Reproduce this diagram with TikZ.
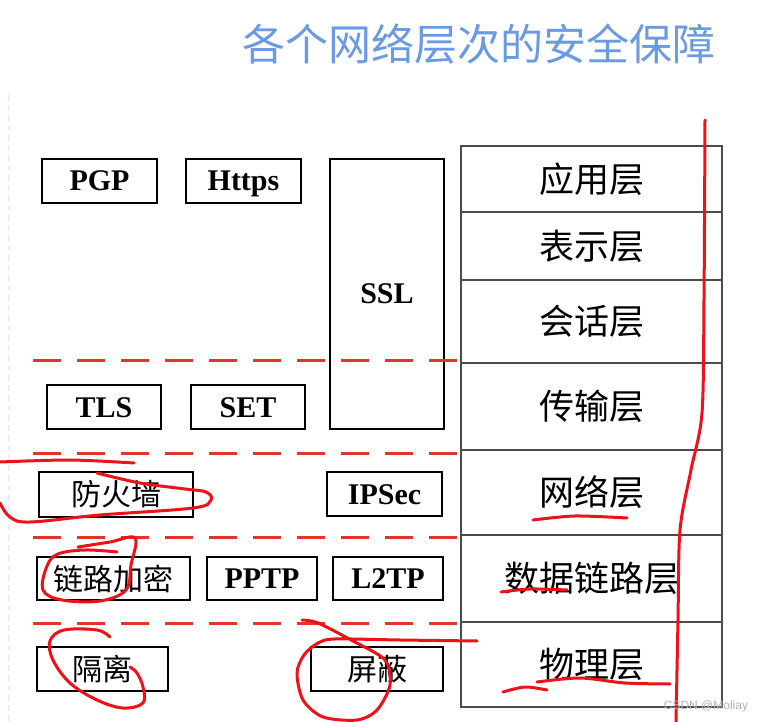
\documentclass[tikz,border=0pt]{standalone}
\usepackage{fontspec}
\setmainfont{Liberation Serif}
\newfontfamily\cjk{Noto Sans CJK SC}
\newfontfamily\wmfont{Liberation Sans}
\usepackage{tikz}
\tikzset{x=1pt,y=-1pt}
\usetikzlibrary{calc}
\definecolor{titleblue}{HTML}{6A9BE2}
\definecolor{penred}{HTML}{EC1218}
\definecolor{dashred}{HTML}{E0352B}
\def\lat{\fontsize{30}{34}\selectfont\bfseries}
\def\han{\cjk\fontsize{30}{34}\selectfont}

\begin{document}
\begin{tikzpicture}[proto/.style={draw, line width=1.4pt, inner sep=0pt, font=\lat,
    text height=20pt, text depth=0pt},
  protocn/.style={draw, line width=1.4pt, inner sep=0pt, font=\han},
  layer/.style={draw=black!70, line width=1.1pt, minimum width=261pt, inner sep=0pt,
    font=\cjk\fontsize{35}{38}\selectfont},
  sep/.style={dashred, line width=3pt, dash pattern=on 28pt off 16pt},
  pen/.style={penred, line width=3pt, line cap=round, line join=round}]
  \useasboundingbox (0,0) rectangle (761,722);
  \fill[white] (0,0) rectangle (761,722);
  \draw[blue!8, line width=2pt, dash pattern=on 6pt off 4pt] (9,95) -- (9,722);
  % title
  \node[text=titleblue, font=\cjk\fontsize{43}{46}\selectfont] (title) at (479,44) {各个网络层次的安全保障};
  % layer stack
  \node[layer, minimum height=66pt] (app) at (591.5,179) {应用层};
  \node[layer, minimum height=68pt] (pres) at (591.5,246) {表示层};
  \node[layer, minimum height=83pt] (sess) at (591.5,321.5) {会话层};
  \node[layer, minimum height=87pt] (trans) at (591.5,406.5) {传输层};
  \node[layer, minimum height=85pt] (net) at (591.5,492.5) {网络层};
  \node[layer, minimum height=87pt] (link) at (591.5,578.5) {数据链路层};
  \node[layer, minimum height=85pt] (phys) at (591.5,664.5) {物理层};
  % protocols
  \node[proto, minimum width=115pt, minimum height=44pt] (pgp) at (99.5,181) {PGP};
  \node[proto, minimum width=115pt, minimum height=44pt] (https) at (243.5,181) {Https};
  \node[proto, minimum width=114pt, minimum height=270pt] (ssl) at (387,294) {SSL};
  \node[proto, minimum width=114pt, minimum height=44pt] (tls) at (104,407) {TLS};
  \node[proto, minimum width=114pt, minimum height=44pt] (set) at (248,407) {SET};
  \node[protocn, minimum width=154pt, minimum height=45pt] (fw) at (116,494.5) {防火墙};
  \node[proto, minimum width=115pt, minimum height=44pt] (ipsec) at (384.5,494) {IPSec};
  \node[protocn, minimum width=153pt, minimum height=43pt] (enc) at (113.5,578.5) {链路加密};
  \node[proto, minimum width=110pt, minimum height=43pt] (pptp) at (262,578.5) {PPTP};
  \node[proto, minimum width=110pt, minimum height=43pt] (ltp) at (388,578.5) {L2TP};
  \node[protocn, minimum width=131pt, minimum height=44pt] (iso) at (102.5,669) {隔离};
  \node[protocn, minimum width=132pt, minimum height=44pt] (shield) at (377,669) {屏蔽};
  % layer separators
  \coordinate (s1) at (33,360);
  \coordinate (s2) at (33,453);
  \coordinate (s3) at (33,537);
  \coordinate (s4) at (33,623);
  \draw[sep] (s1) -- (s1 -| trans.west);
  \draw[sep] (s2) -- (s2 -| net.west);
  \draw[sep] (s3) -- (s3 -| link.west);
  \draw[sep] (s4) -- (s4 -| phys.west);
  % hand marks
  \draw[pen] plot[smooth, tension=.5] coordinates {(705,120) (704,300) (702,413) (691,470) (680,530) (678,620) (676,722)};
  \draw[pen] plot[smooth] coordinates {(533,520) (575,516) (627,518)};
  \draw[pen] plot[smooth] coordinates {(501,592) (530,589) (567,590)};
  \draw[pen] plot[smooth] coordinates {(537,682) (580,678) (625,683) (670,684)};
  \draw[pen] plot[smooth] coordinates {(503,692) (525,687) (547,690)};
  \draw[pen] plot[smooth] coordinates {(0,462) (70,460) (134,463)};
  \draw[pen] plot[smooth, tension=.6] coordinates {(0,503) (10,517) (30,522) (100,515) (193,508) (211,500) (206,492) (185,489) (140,483) (97,473)};
  \draw[pen] plot[smooth, tension=.6] coordinates {(78,547) (110,542) (135,538) (131,565) (126,590) (100,601) (62,600) (43,590) (47,566) (58,554) (85,550) (117,552)};
  \draw[pen] plot[smooth, tension=.6] coordinates {(110,637) (97,630) (64,630) (50,641) (53,660) (70,683) (97,700) (123,708) (143,703) (143,687) (137,673) (130,667)};
  \draw[pen] plot[smooth, tension=.5] coordinates {(302,620) (318,623) (353,641) (385,660) (390,685) (377,710) (357,720) (323,717) (303,700) (297,673) (304,655) (318,643) (335,639) (400,640) (477,641)};
  % watermark
  \node[text=gray!60, font=\wmfont\fontsize{12}{12}\selectfont] (mark) at (706,706) {CSDN @Moliay};
\end{tikzpicture}
\end{document}
